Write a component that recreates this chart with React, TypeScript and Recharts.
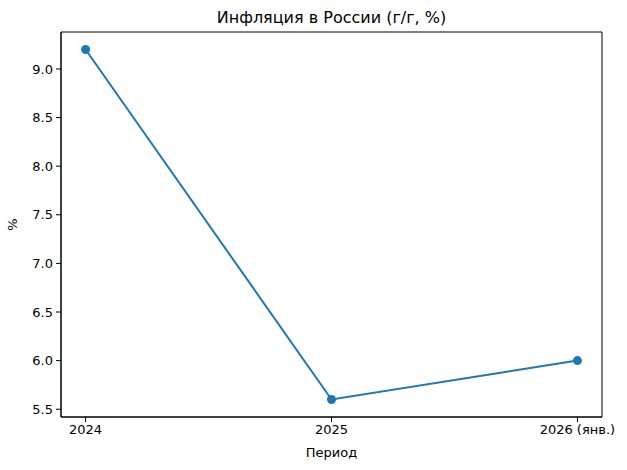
import React from "react";
import { LineChart, Line, XAxis, YAxis, ReferenceArea, Label } from "recharts";

const periods = ["2024", "2025", "2026 (янв.)"];
const inflation = [9.2, 5.6, 6.0];
const yTicks = [5.5, 6.0, 6.5, 7.0, 7.5, 8.0, 8.5, 9.0];

const data = periods.map((p, i) => ({ idx: i, period: p, value: inflation[i] }));

const font = "'DejaVu Sans', sans-serif";
const tickStyle = { fill: "#000", fontSize: 13, fontFamily: font };

export default function App() {
  return (
    <div style={{ position: "absolute", left: 0, top: 0, width: 627, height: 470, background: "#fff" }}>
      <div
        style={{
          position: "absolute",
          left: 61,
          width: 541,
          top: 8,
          textAlign: "center",
          fontFamily: font,
          fontSize: 16,
          color: "#000",
        }}
      >
        Инфляция в России (г/г, %)
      </div>
      <LineChart width={627} height={470} data={data} margin={{ top: 32, right: 25, bottom: 9, left: 0 }}>
        <XAxis
          dataKey="idx"
          type="number"
          domain={[-0.1, 2.1]}
          ticks={[0, 1, 2]}
          tickFormatter={(v: number) => periods[v]}
          tick={tickStyle}
          tickSize={5}
          tickMargin={3}
          stroke="#000"
          height={44}
          allowDataOverflow
        >
          <Label value="Период" position="insideBottom" offset={4} style={{ fill: "#000", fontSize: 13, fontFamily: font }} />
        </XAxis>
        <YAxis
          type="number"
          domain={[5.42, 9.38]}
          ticks={yTicks}
          tickFormatter={(v: number) => v.toFixed(1)}
          tick={tickStyle}
          tickSize={5}
          tickMargin={3}
          stroke="#000"
          width={61}
          allowDataOverflow
        >
          <Label
            value="%"
            angle={-90}
            position="insideLeft"
            offset={12}
            style={{ fill: "#000", fontSize: 13, fontFamily: font, textAnchor: "middle" }}
          />
        </YAxis>
        <ReferenceArea x1={-0.1} x2={2.1} y1={5.42} y2={9.38} fill="none" stroke="#000" strokeWidth={1} ifOverflow="extendDomain" />
        <Line
          dataKey="value"
          stroke="#1f77b4"
          strokeWidth={2}
          dot={{ r: 4.5, fill: "#1f77b4", stroke: "#1f77b4", strokeWidth: 0 }}
          isAnimationActive={false}
        />
      </LineChart>
    </div>
  );
}
